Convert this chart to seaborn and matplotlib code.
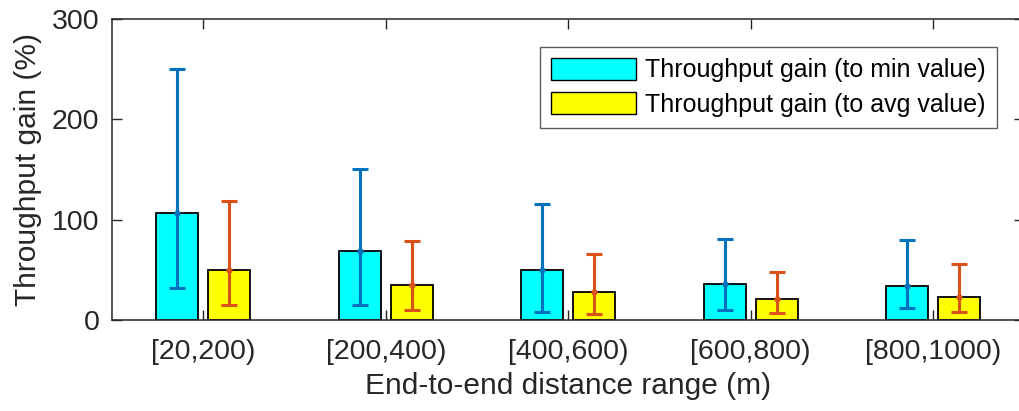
import numpy as np
import pandas as pd
import matplotlib
matplotlib.use("Agg")
import matplotlib.pyplot as plt
import seaborn as sns

categories = ["[20,200)", "[200,400)", "[400,600)", "[600,800)", "[800,1000)"]
series_names = ["Throughput gain (to min value)", "Throughput gain (to avg value)"]
gain_min = [107, 68.5, 49.5, 36.3, 34]
gain_min_low = [32, 15, 7.7, 9.7, 12.3]
gain_min_high = [250, 150.5, 115.5, 81, 80]
gain_avg = [49.5, 35, 27.7, 21, 23]
gain_avg_low = [14.6, 9.5, 5.7, 6.7, 8]
gain_avg_high = [119, 79, 65.5, 47.5, 56]

bar_colors = ["#00FFFF", "#FFFF00"]
err_colors = ["#0072BD", "#D95319"]

df = pd.DataFrame({
    "range": categories * 2,
    "series": [series_names[0]] * len(categories) + [series_names[1]] * len(categories),
    "gain": gain_min + gain_avg,
})

sns.set_style("ticks")
plt.rcParams["font.family"] = ["Liberation Sans", "DejaVu Sans"]
axcol = "#262626"
plt.rcParams.update({
    "axes.edgecolor": axcol, "xtick.color": axcol, "ytick.color": axcol,
    "axes.labelcolor": axcol, "text.color": "black",
})

fig = plt.figure(figsize=(10.2, 4.11), dpi=100)
ax = fig.add_axes([112 / 1020, 1 - 320 / 411, 912.5 / 1020, 301 / 411])

sns.barplot(data=df, x="range", y="gain", hue="series", order=categories,
            hue_order=series_names, palette=bar_colors, width=0.572, gap=0.2,
            edgecolor="black", linewidth=1.3, errorbar=None, saturation=1, ax=ax)

lows = [gain_min_low, gain_avg_low]
highs = [gain_min_high, gain_avg_high]
vals = [gain_min, gain_avg]
bar_conts = list(ax.containers)
for i, cont in enumerate(bar_conts):
    xs = [p.get_x() + p.get_width() / 2 for p in cont.patches]
    v = np.array(vals[i])
    lo = v - np.array(lows[i])
    hi = np.array(highs[i]) - v
    ax.errorbar(xs, v, yerr=[lo, hi], fmt="o", color=err_colors[i], ms=3.5,
                elinewidth=2.2, capsize=5.5, capthick=2.2, zorder=5)

ax.set_xlim(-0.5, 4.5)
ax.set_ylim(0, 300)
ax.set_yticks([0, 100, 200, 300])
ax.tick_params(axis="both", direction="in", length=7.5, width=1, labelsize=20.5,
               top=True, right=True)
ax.tick_params(axis="y", pad=9)
ax.tick_params(axis="x", pad=14)
for s in ax.spines.values():
    s.set_linewidth(1.1)
ax.set_xlabel("End-to-end distance range (m)", fontsize=21.5, labelpad=5)
ax.set_ylabel("Throughput gain (%)", fontsize=21.5, labelpad=7)

leg = ax.legend(loc="upper right", bbox_to_anchor=(997 / 1020, 1 - 46.7 / 411),
                bbox_transform=fig.transFigure, fontsize=18, frameon=True,
                fancybox=False, edgecolor="#333333", handlelength=3.4,
                handleheight=0.97, labelspacing=0.4, borderpad=0.45,
                handletextpad=0.35, borderaxespad=0)
leg.get_frame().set_linewidth(1.0)
for h in leg.legend_handles:
    h.set_edgecolor("black")
    h.set_linewidth(1.0)

fig.savefig("out.png", dpi=100)
